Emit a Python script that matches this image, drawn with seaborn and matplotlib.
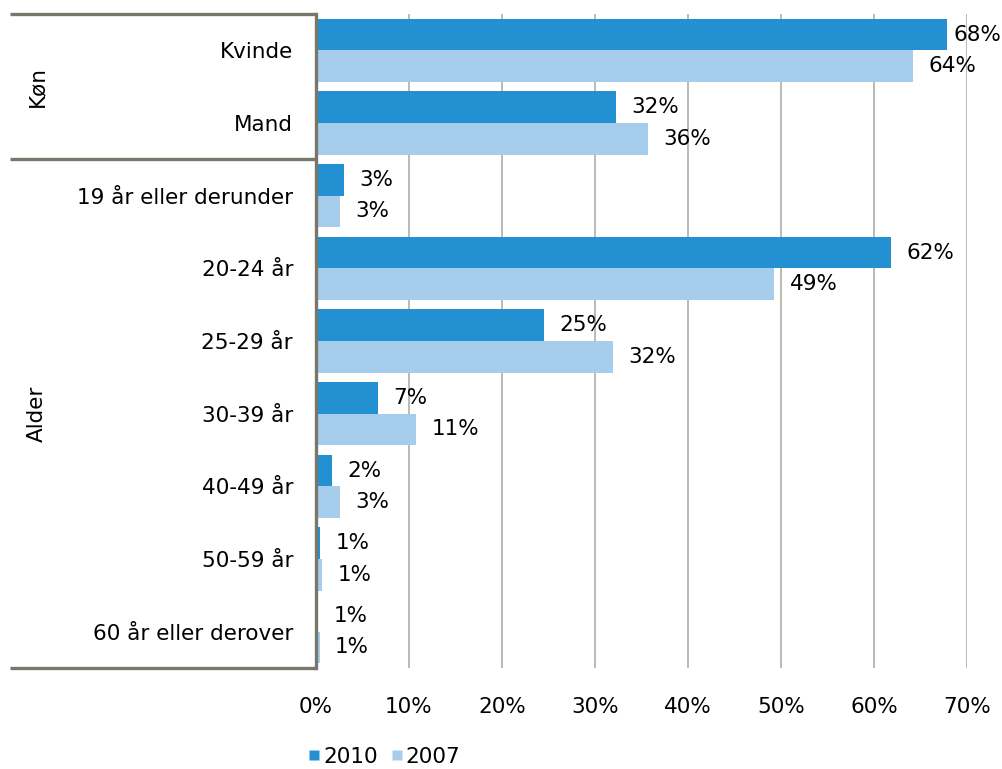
import pandas as pd
import matplotlib
matplotlib.use("Agg")
import matplotlib.pyplot as plt
import matplotlib.transforms as mtransforms
from matplotlib.lines import Line2D
import seaborn as sns

# data
categories = ["Kvinde", "Mand", "19 år eller derunder", "20-24 år", "25-29 år",
              "30-39 år", "40-49 år", "50-59 år", "60 år eller derover"]
values_2010 = [67.8, 32.3, 3.0, 61.8, 24.5, 6.7, 1.7, 0.45, 0.25]
values_2007 = [64.2, 35.7, 2.6, 49.3, 31.9, 10.8, 2.6, 0.65, 0.4]
labels_2010 = ["68%", "32%", "3%", "62%", "25%", "7%", "2%", "1%", "1%"]
labels_2007 = ["64%", "36%", "3%", "49%", "32%", "11%", "3%", "1%", "1%"]
years = ["2010", "2007"]
groups = [("Køn", 0, 1), ("Alder", 2, 8)]
x_ticks = [0, 10, 20, 30, 40, 50, 60, 70]

colors = {"2010": "#2391D1", "2007": "#A6CEEC"}
frame_col = "#77776B"
grid_col = "#B5B5AA"
fs = 15.5

df = pd.DataFrame({
    "kategori": categories * 2,
    "andel": values_2010 + values_2007,
    "aar": ["2010"] * len(categories) + ["2007"] * len(categories),
})

sns.set_style("white")
plt.rcParams["font.family"] = ["DejaVu Sans"]
plt.rcParams["text.color"] = "black"
plt.rcParams["xtick.color"] = "black"
plt.rcParams["ytick.color"] = "black"

fig = plt.figure(figsize=(10.03, 7.69), dpi=100)
ax = fig.add_axes([316 / 1003, 1 - 668 / 769, (967 - 316) / 1003, (668 - 14) / 769])

sns.barplot(data=df, y="kategori", x="andel", hue="aar", hue_order=years,
            palette=colors, orient="h", width=0.87, gap=0, saturation=1,
            edgecolor="none", legend=False, ax=ax)

ax.set_xlim(0, 70)
ax.set_ylim(len(categories) - 0.5, -0.5)
ax.set_xticks(x_ticks)
ax.set_xticklabels([f"{t}%" for t in x_ticks], fontsize=fs)
ax.tick_params(axis="x", length=0, pad=21, labelcolor="black")
ax.tick_params(axis="y", length=0, pad=16.5, labelsize=fs, labelcolor="black")
ax.set_xlabel("")
ax.set_ylabel("")
ax.grid(axis="x", color=grid_col, lw=1.3)
ax.set_axisbelow(True)
for s in ["top", "right", "bottom"]:
    ax.spines[s].set_visible(False)
ax.spines["left"].set_color(frame_col)
ax.spines["left"].set_linewidth(2.4)
ax.spines["left"].set_zorder(5)

# data labels
for cont, labs in zip(ax.containers, [labels_2010, labels_2007]):
    for bar, lab in zip(cont, labs):
        x = min(bar.get_width() + 1.65, 68.5)
        ax.text(x, bar.get_y() + bar.get_height() / 2, lab, fontsize=fs,
                va="center", ha="left", color="black", clip_on=False)

# left frame and group labels
trans = mtransforms.blended_transform_factory(ax.transAxes, ax.transData)
x0 = (10 - 316) / 651
for y in [-0.5, 1.5, len(categories) - 0.5]:
    ax.plot([x0, 0], [y, y], transform=trans, color=frame_col, lw=2.4,
            clip_on=False, solid_capstyle="butt")
for name, a, b in groups:
    ax.text((37 - 316) / 651, (a + b) / 2, name, transform=trans, rotation=90,
            ha="center", va="center", fontsize=fs, color="black")

# legend
handles = [Line2D([], [], marker="s", ls="none", markersize=7.5,
                  markerfacecolor=colors[y], markeredgecolor="none") for y in years]
fig.legend(handles, years, loc="center left", bbox_to_anchor=(308 / 1003, 1 - 757 / 769),
           ncol=2, frameon=False, fontsize=fs, handlelength=0.6, labelcolor="black",
           handletextpad=0.1, columnspacing=0.6, borderpad=0, borderaxespad=0)

fig.savefig("out.png", dpi=100)
